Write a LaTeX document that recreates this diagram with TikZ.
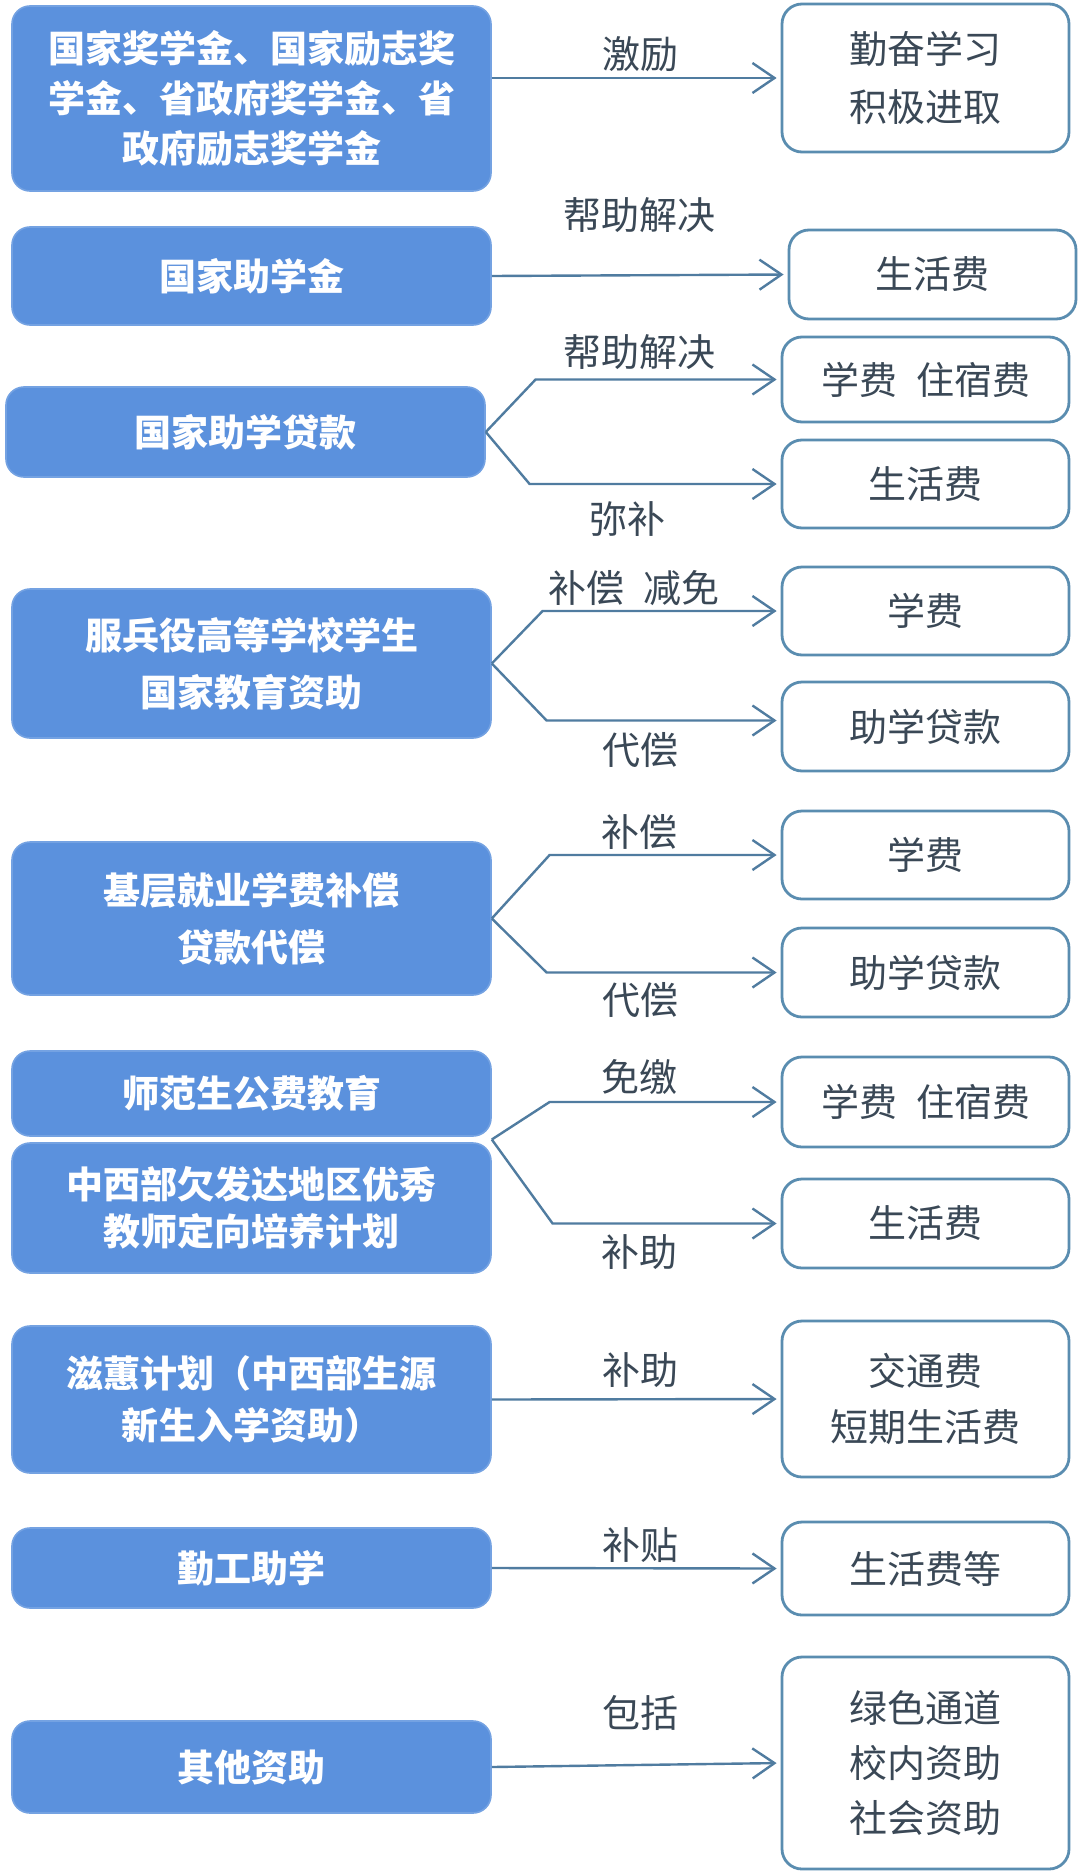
\documentclass[tikz,border=0pt]{standalone}
\usepackage{fontspec}
\newfontfamily\cjk{Noto Sans CJK SC}
\usetikzlibrary{arrows.meta,calc}
\definecolor{boxblue}{HTML}{5B91DD}
\definecolor{edgeblue}{HTML}{5A8DB0}
\definecolor{linecol}{HTML}{507CA0}
\definecolor{txtcol}{HTML}{3A4856}

\begin{document}
\begin{tikzpicture}[x=0.5pt,y=-0.5pt,
  lbox/.style={draw=boxblue!85!white,line width=0.8pt,fill=boxblue,rounded corners=9pt,
    minimum width=239.5pt,inner sep=0pt,text=white,align=center,
    font=\cjk\bfseries\fontsize{18.5}{28.5}\selectfont},
  rbox/.style={draw=edgeblue,line width=1.4pt,fill=white,rounded corners=10pt,
    minimum width=143.5pt,inner sep=0pt,text=txtcol,align=center,
    font=\cjk\fontsize{19}{28}\selectfont},
  lab/.style={text=txtcol,inner sep=0pt,font=\cjk\fontsize{19}{22}\selectfont},
  arr/.style={draw=linecol,line width=1.2pt,shorten >=2pt,
    -{Straight Barb[length=11pt,width=15pt]}}]
\fill[white] (0,0) rectangle (1080,1873);
\useasboundingbox (0,0) rectangle (1080,1873);

% left column
\node[lbox,minimum height=92.5pt,font=\cjk\bfseries\fontsize{18.5}{25}\selectfont] (jxj) at (251.5,98.5)
  {国家奖学金、国家励志奖\\学金、省政府奖学金、省\\政府励志奖学金};
\node[lbox,minimum height=49pt] (zxj) at (251.5,276) {国家助学金};
\node[lbox,minimum height=45pt] (dk) at (245.5,432) {国家助学贷款};
\node[lbox,minimum height=74.5pt] (fby) at (251.5,663.5) {服兵役高等学校学生\\国家教育资助};
\node[lbox,minimum height=76.5pt] (jc) at (251.5,918.5) {基层就业学费补偿\\贷款代偿};
\node[lbox,minimum height=42.5pt] (sf) at (251.5,1093.5) {师范生公费教育};
\node[lbox,minimum height=65pt,font=\cjk\bfseries\fontsize{18.5}{23.5}\selectfont] (yx) at (251.5,1208)
  {中西部欠发达地区优秀\\教师定向培养计划};
\node[lbox,minimum height=73.5pt,font=\cjk\bfseries\fontsize{18.5}{26}\selectfont] (zh) at (251.5,1399.5)
  {滋蕙计划（中西部生源\\新生入学资助）};
\node[lbox,minimum height=40pt] (qg) at (251.5,1568) {勤工助学};
\node[lbox,minimum height=46pt] (qt) at (251.5,1767) {其他资助};

% right column
\node[rbox,minimum height=74pt,font=\cjk\fontsize{19}{29}\selectfont] (qf) at (925.5,78) {勤奋学习\\积极进取};
\node[rbox,minimum height=44.5pt] (shf1) at (932.5,274.5) {生活费};
\node[rbox,minimum height=42.5pt] (xz1) at (925.5,379.5) {学费\hspace{0.5em}住宿费};
\node[rbox,minimum height=44pt] (shf2) at (925.5,484) {生活费};
\node[rbox,minimum height=44pt] (xf1) at (925.5,611) {学费};
\node[rbox,minimum height=44.5pt] (zd1) at (925.5,726.5) {助学贷款};
\node[rbox,minimum height=44pt] (xf2) at (925.5,855) {学费};
\node[rbox,minimum height=44.5pt] (zd2) at (925.5,972.5) {助学贷款};
\node[rbox,minimum height=45pt] (xz2) at (925.5,1102) {学费\hspace{0.5em}住宿费};
\node[rbox,minimum height=44.5pt] (shf3) at (925.5,1223.5) {生活费};
\node[rbox,minimum height=78pt] (jt) at (925.5,1399) {交通费\\短期生活费};
\node[rbox,minimum height=46.5pt] (shf4) at (925.5,1568.5) {生活费等};
\node[rbox,minimum height=106pt,font=\cjk\fontsize{19}{27.5}\selectfont] (lsd) at (925.5,1763)
  {绿色通道\\校内资助\\社会资助};

% connectors
\coordinate (j6) at ($(sf.south east)!0.5!(yx.north east)$);
\draw[arr] (jxj.east |- qf.west) -- (qf.west);
\draw[arr] (zxj.east) -- (shf1.west);
\draw[arr] (dk.east) -- ([xshift=-122.5pt]xz1.west) -- (xz1.west);
\draw[arr] (dk.east) -- ([xshift=-125.5pt]shf2.west) -- (shf2.west);
\draw[arr] (fby.east) -- ([xshift=-119pt]xf1.west) -- (xf1.west);
\draw[arr] (fby.east) -- ([xshift=-117pt,yshift=3pt]zd1.west) -- ([yshift=3pt]zd1.west);
\draw[arr] (jc.east) -- ([xshift=-115.5pt]xf2.west) -- (xf2.west);
\draw[arr] (jc.east) -- ([xshift=-117pt]zd2.west) -- (zd2.west);
\draw[arr] (j6) -- ([xshift=-115.5pt]xz2.west) -- (xz2.west);
\draw[arr] (j6) -- ([xshift=-114pt]shf3.west) -- (shf3.west);
\draw[arr] (zh.east) -- (jt.west);
\draw[arr] (qg.east) -- (shf4.west);
\draw[arr] (qt.east) -- (lsd.west);

% labels
\node[lab] (t1) at (640,54) {激励};
\node[lab] (t2) at (639,215) {帮助解决};
\node[lab] (t3) at (639,352) {帮助解决};
\node[lab] (t4) at (627,519) {弥补};
\node[lab] (t5) at (634,588) {补偿\hspace{0.5em}减免};
\node[lab] (t6) at (640,750) {代偿};
\node[lab] (t7) at (639,832) {补偿};
\node[lab] (t8) at (640,1000) {代偿};
\node[lab] (t9) at (639,1077) {免缴};
\node[lab] (t10) at (639,1252) {补助};
\node[lab] (t11) at (640,1370) {补助};
\node[lab] (t12) at (640,1545) {补贴};
\node[lab] (t13) at (640,1713) {包括};
\end{tikzpicture}
\end{document}
